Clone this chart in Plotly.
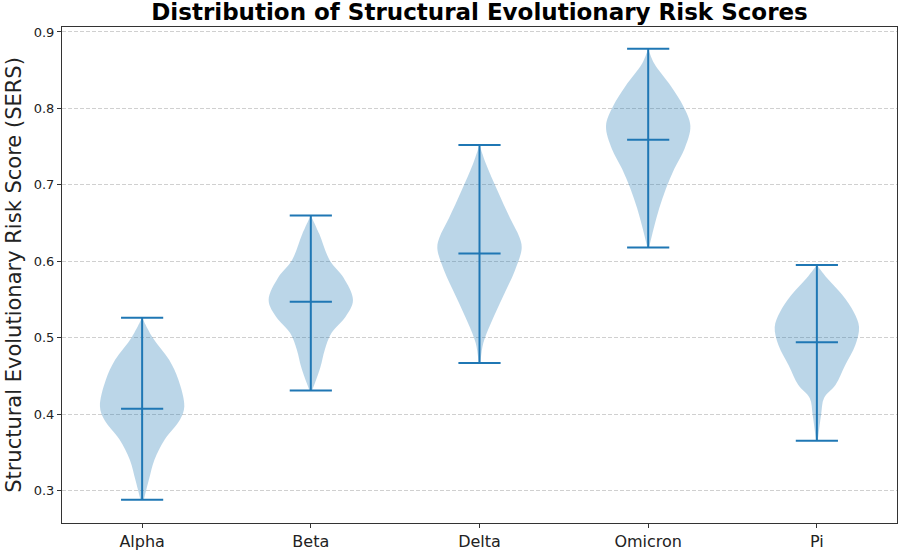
import plotly.graph_objects as go

# variants and summary values
variants = ["Alpha", "Beta", "Delta", "Omicron", "Pi"]
positions = [1, 2, 3, 4, 5]
mins = [0.288, 0.431, 0.467, 0.618, 0.365]
maxs = [0.526, 0.660, 0.752, 0.878, 0.595]
medians = [0.407, 0.547, 0.610, 0.759, 0.494]

# density outline of each violin: score -> relative half width (1 = widest)
alpha_y = [0.288, 0.314, 0.340, 0.367, 0.393, 0.410, 0.445, 0.471, 0.501, 0.526]
alpha_w = [0.04, 0.16, 0.29, 0.54, 0.90, 1.00, 0.86, 0.64, 0.24, 0.0]
beta_y = [0.431, 0.441, 0.462, 0.484, 0.506, 0.527, 0.549, 0.579, 0.601, 0.636, 0.660]
beta_w = [0.03, 0.10, 0.23, 0.33, 0.49, 0.82, 1.00, 0.77, 0.45, 0.20, 0.0]
delta_y = [0.467, 0.493, 0.519, 0.553, 0.588, 0.617, 0.631, 0.657, 0.692, 0.728, 0.752]
delta_w = [0.02, 0.09, 0.27, 0.55, 0.84, 1.00, 0.95, 0.72, 0.43, 0.15, 0.0]
omicron_y = [0.618, 0.643, 0.669, 0.695, 0.721, 0.747, 0.777, 0.803, 0.829, 0.859, 0.878]
omicron_w = [0.02, 0.13, 0.26, 0.42, 0.62, 0.86, 1.00, 0.83, 0.54, 0.14, 0.0]
pi_y = [0.365, 0.399, 0.421, 0.438, 0.464, 0.490, 0.514, 0.533, 0.556, 0.578, 0.595]
pi_w = [0.02, 0.10, 0.17, 0.44, 0.67, 0.91, 1.00, 0.88, 0.60, 0.24, 0.0]

profiles = [(alpha_y, alpha_w), (beta_y, beta_w), (delta_y, delta_w),
            (omicron_y, omicron_w), (pi_y, pi_w)]

blue = "#1f77b4"
half_body = 0.25   # matplotlib widths=0.5
half_cap = 0.125

fig = go.Figure()

for pos, (ys, ws) in zip(positions, profiles):
    # closed outline: right side upwards, left side back down
    xs = [pos + half_body * w for w in ws] + [pos - half_body * w for w in reversed(ws)]
    yy = list(ys) + list(reversed(ys))
    fig.add_trace(go.Scatter(
        x=xs, y=yy, mode="lines", fill="toself",
        fillcolor="rgba(31,119,180,0.3)", line=dict(width=0, shape="spline"),
        hoverinfo="skip", showlegend=False
    ))

# vertical bars, caps and medians
for pos, lo, hi, med in zip(positions, mins, maxs, medians):
    fig.add_trace(go.Scatter(
        x=[pos, pos], y=[lo, hi], mode="lines",
        line=dict(color=blue, width=2), showlegend=False, hoverinfo="skip"
    ))
    for v in (lo, hi, med):
        fig.add_trace(go.Scatter(
            x=[pos - half_cap, pos + half_cap], y=[v, v], mode="lines",
            line=dict(color=blue, width=2), showlegend=False, hoverinfo="skip"
        ))

fig.update_layout(
    width=899, height=554,
    margin=dict(l=62, r=2, t=27, b=31),
    paper_bgcolor="white", plot_bgcolor="white",
    font=dict(family="DejaVu Sans", color="#222"),
    title=dict(text="<b>Distribution of Structural Evolutionary Risk Scores</b>",
               x=0.5334, xanchor="center", y=0.979, yanchor="middle",
               font=dict(size=23, color="black")),
    xaxis=dict(
        range=[0.525, 5.475], tickmode="array", tickvals=positions, ticktext=variants,
        showgrid=False, zeroline=False, showline=True, linecolor="#333", linewidth=1,
        mirror=True, ticks="outside", ticklen=4, tickcolor="#333",
        tickfont=dict(size=16), automargin=False
    ),
    yaxis=dict(
        range=[0.2575, 0.9065], tickmode="array",
        tickvals=[0.3, 0.4, 0.5, 0.6, 0.7, 0.8, 0.9],
        ticktext=["0.3", "0.4", "0.5", "0.6", "0.7", "0.8", "0.9"],
        showgrid=True, gridcolor="#d0d0d0", griddash="4px,2px", gridwidth=1,
        zeroline=False, showline=True, linecolor="#333", linewidth=1,
        mirror=True, ticks="outside", ticklen=4, tickcolor="#333",
        tickfont=dict(size=13), automargin=False,
        title=dict(text="Structural Evolutionary Risk Score (SERS)", font=dict(size=21),
                   standoff=6)
    ),
)

# drop the page's default body margin so the figure sits at the window corner
fig.write_html("out.html", config={"displayModeBar": False},
               post_script="document.body.style.margin='0';")
